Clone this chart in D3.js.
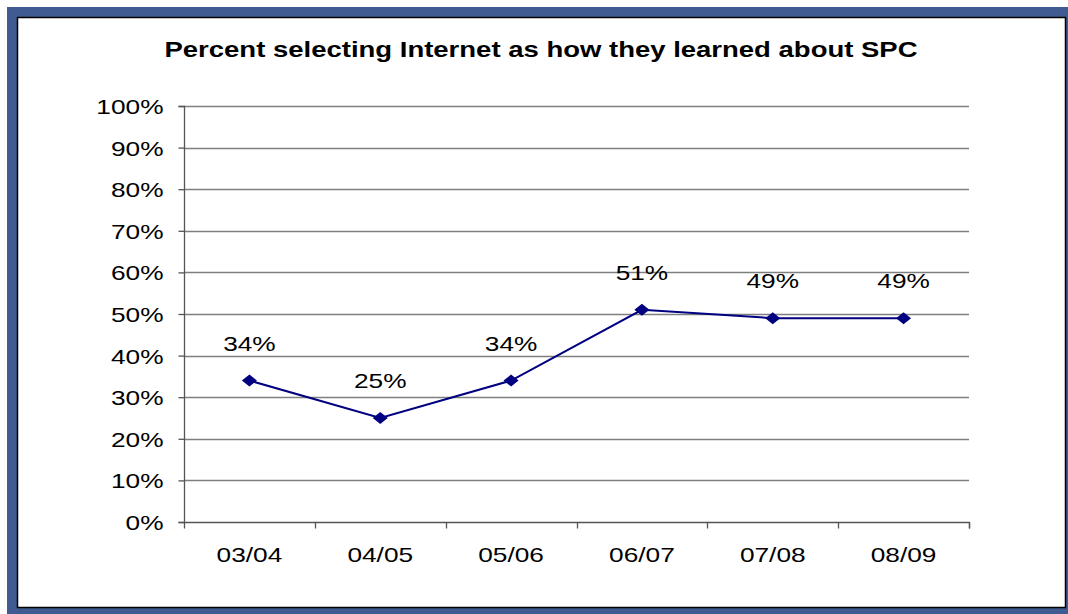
<!DOCTYPE html>
<html>
<head>
<meta charset="utf-8">
<script src="https://cdn.jsdelivr.net/npm/d3@7"></script>
<style>
  html, body { margin: 0; padding: 0; background: #fff; }
  svg { display: block; font-family: "Liberation Sans", Arial, sans-serif; }
</style>
</head>
<body>
<svg id="chart" width="1068" height="614"></svg>
<script>
// Survey years and share of respondents who learned about SPC via the Internet
const years = ["03/04", "04/05", "05/06", "06/07", "07/08", "08/09"];
const percentInternet = [34, 25, 34, 51, 49, 49];
const yTicks = [0, 10, 20, 30, 40, 50, 60, 70, 80, 90, 100];
const titleText = "Percent selecting Internet as how they learned about SPC";

// Text in this chart is drawn slightly widened
const SX = 1.25;

const svg = d3.select("#chart");

// Framed panel
svg.append("rect").attr("x", 7).attr("y", 7).attr("width", 1061).attr("height", 607)
  .attr("fill", "#3f5b91");
svg.append("rect").attr("x", 17.5).attr("y", 17.5).attr("width", 1048).attr("height", 590)
  .attr("fill", "#fff").attr("stroke", "#000").attr("stroke-width", 1.5);

const plot = { left: 184, right: 969, top: 106, bottom: 522 };

const x = d3.scaleBand().domain(years).range([plot.left, plot.right]);
const y = d3.scaleLinear().domain([0, 100]).range([plot.bottom, plot.top]);

// Title
svg.append("g").attr("transform", "translate(541,57)")
  .append("text")
  .attr("transform", `scale(${SX},1)`)
  .attr("text-anchor", "middle")
  .attr("font-size", 22).attr("font-weight", "bold")
  .attr("fill", "#000")
  .text(titleText);

// Horizontal gridlines
svg.append("g").selectAll("line").data(yTicks.filter(d => d > 0)).join("line")
  .attr("x1", plot.left).attr("x2", plot.right)
  .attr("y1", d => Math.round(y(d)) + 0.5).attr("y2", d => Math.round(y(d)) + 0.5)
  .attr("stroke", "#7f7f7f").attr("stroke-width", 1.3);

// Y axis
const yAxis = svg.append("g")
  .attr("transform", `translate(${plot.left + 0.5},0)`)
  .call(d3.axisLeft(y).tickValues(yTicks).tickFormat(d => d + "%").tickSize(6));
yAxis.selectAll(".tick text")
  .attr("x", -21 / SX)
  .attr("dy", "0.36em")
  .attr("transform", `scale(${SX},1)`)
  .attr("font-size", 21).attr("fill", "#000")
  .attr("font-family", "Liberation Sans, Arial, sans-serif");

// X axis
const xAxis = svg.append("g")
  .attr("transform", `translate(0,${plot.bottom + 0.5})`)
  .call(d3.axisBottom(x).tickSize(0));
xAxis.selectAll(".tick text")
  .attr("y", 40).attr("dy", null)
  .attr("transform", `scale(${SX},1)`)
  .attr("font-size", 21).attr("fill", "#000")
  .attr("font-family", "Liberation Sans, Arial, sans-serif");
// Category boundary ticks
xAxis.selectAll(".bound").data(d3.range(years.length + 1)).join("line")
  .attr("class", "bound")
  .attr("x1", i => Math.round(plot.left + i * x.step()) + 0.5)
  .attr("x2", i => Math.round(plot.left + i * x.step()) + 0.5)
  .attr("y1", 0).attr("y2", 6);

[yAxis, xAxis].forEach(g => {
  g.selectAll("line").attr("stroke", "#555").attr("stroke-width", 1.3);
  g.select(".domain").attr("stroke", "#555").attr("stroke-width", 1.3);
});
yAxis.select(".domain").attr("d", `M-6,${plot.top + 0.5}H0V${plot.bottom + 0.5}H-6`);
xAxis.select(".domain").attr("d", `M${plot.left},0H${plot.right + 0.5}V6`);

const cx = d => x(d) + x.bandwidth() / 2;

// Series line
svg.append("path")
  .datum(years.map((yr, i) => [cx(yr), y(percentInternet[i])]))
  .attr("fill", "none").attr("stroke", "#000080").attr("stroke-width", 2)
  .attr("d", d3.line());

// Diamond markers
svg.append("g").selectAll("path").data(years).join("path")
  .attr("transform", (d, i) => `translate(${cx(d)},${y(percentInternet[i])}) scale(${SX},1)`)
  .attr("d", d3.symbol(d3.symbolDiamond2, 92))
  .attr("fill", "#000080");

// Value labels
svg.append("g").selectAll("g").data(years).join("g")
  .attr("transform", (d, i) => `translate(${cx(d)},${y(percentInternet[i]) - 30})`)
  .append("text")
  .attr("transform", `scale(${SX},1)`)
  .attr("text-anchor", "middle")
  .attr("font-size", 21).attr("fill", "#000")
  .text((d, i) => percentInternet[i] + "%");
</script>
</body>
</html>
